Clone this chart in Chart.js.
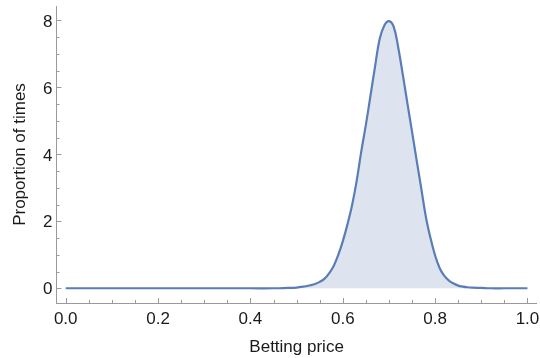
<!DOCTYPE html>
<html>
<head>
<meta charset="utf-8">
<script src="https://cdn.jsdelivr.net/npm/chart.js@4/dist/chart.umd.min.js"></script>
<style>
html,body{margin:0;padding:0;background:#fff;}
#wrap{width:540px;height:358px;position:relative;}
</style>
</head>
<body>
<div id="wrap"><canvas id="c" width="540" height="358"></canvas></div>
<script>
// Data
const price = [0, 0.05, 0.10, 0.15, 0.20, 0.25, 0.30, 0.35, 0.40, 0.45, 0.48, 0.50, 0.51, 0.52, 0.53, 0.54, 0.55, 0.56, 0.57, 0.58, 0.59,
  0.60, 0.61, 0.62, 0.63, 0.64, 0.65, 0.66, 0.67, 0.68, 0.69, 0.70, 0.71, 0.72, 0.73, 0.74, 0.75, 0.76, 0.77, 0.78, 0.79,
  0.80, 0.81, 0.82, 0.83, 0.84, 0.85, 0.86, 0.87, 0.88, 0.90, 0.92, 0.95, 1.00];
const proportion = [0, 0, 0, 0, 0, 0, 0, 0, 0, 0, 0.01, 0.02, 0.04, 0.06, 0.09, 0.13, 0.19, 0.28, 0.44, 0.66, 0.99,
  1.40, 1.90, 2.47, 3.20, 4.08, 4.88, 5.75, 6.63, 7.45, 7.85, 7.98, 7.82, 7.20, 6.38, 5.52, 4.68, 3.82, 2.98, 2.13, 1.50,
  0.98, 0.60, 0.37, 0.23, 0.14, 0.08, 0.05, 0.03, 0.02, 0.01, 0, 0, 0];
const xTickLabels = ['0.0', '0.2', '0.4', '0.6', '0.8', '1.0'];
const yTickLabels = ['0', '2', '4', '6', '8'];
const xTitle = 'Betting price';
const yTitle = 'Proportion of times';

const points = price.map((p, i) => ({x: p, y: proportion[i]}));
const FAMILY = '"Liberation Sans", Arial, sans-serif';
const FONT = {family: FAMILY, size: 17};
const AXIS = '#9a9a9a';
const TEXT = '#1a1a1a';

const axisDecor = {
  id: 'axisDecor',
  afterDraw(chart) {
    const ctx = chart.ctx, xs = chart.scales.x, ys = chart.scales.y;
    const a = chart.chartArea;
    ctx.save();
    ctx.strokeStyle = AXIS;
    ctx.lineWidth = 1;
    ctx.beginPath();
    for (let k = 0; k <= 20; k++) {
      const v = k * 0.05;
      const px = Math.round(xs.getPixelForValue(v)) + 0.5;
      const len = (k % 4 === 0) ? 5 : 3;
      ctx.moveTo(px, a.bottom);
      ctx.lineTo(px, a.bottom - len);
    }
    for (let k = 0; k <= 16; k++) {
      const v = k * 0.5;
      const py = Math.round(ys.getPixelForValue(v)) + 0.5;
      const len = (k % 4 === 0) ? 5 : 3;
      ctx.moveTo(a.left, py);
      ctx.lineTo(a.left + len, py);
    }
    ctx.stroke();
    // tick labels
    ctx.fillStyle = TEXT;
    ctx.font = '17px ' + FAMILY;
    ctx.textBaseline = 'alphabetic';
    ctx.textAlign = 'center';
    xTickLabels.forEach(t => {
      ctx.fillText(t, xs.getPixelForValue(parseFloat(t)), a.bottom + 20.5);
    });
    ctx.textAlign = 'right';
    yTickLabels.forEach(t => {
      ctx.fillText(t, a.left - 4, ys.getPixelForValue(parseFloat(t)) + 6.2);
    });
    ctx.restore();
  }
};

new Chart(document.getElementById('c'), {
  type: 'line',
  data: {
    datasets: [{
      data: points,
      borderColor: '#5a7db6',
      backgroundColor: '#dde4ef',
      borderWidth: 2.2,
      pointRadius: 0,
      fill: 'origin',
      tension: 0.4
    }]
  },
  options: {
    responsive: false,
    animation: false,
    layout: {padding: {left: 0, right: 3.3, top: 6, bottom: 0}},
    plugins: {legend: {display: false}, tooltip: {enabled: false}},
    scales: {
      x: {
        type: 'linear',
        min: -0.02, max: 1.02,
        afterFit(s) { s.height = 55; },
        grid: {display: false, drawTicks: false},
        border: {display: true, color: AXIS, width: 1},
        ticks: {display: false},
        title: {display: true, text: xTitle, color: TEXT, font: FONT, padding: {top: 0, bottom: 0}}
      },
      y: {
        type: 'linear',
        min: -0.44, max: 8.43,
        afterFit(s) { s.width = 56.5; },
        grid: {display: false, drawTicks: false},
        border: {display: true, color: AXIS, width: 1},
        ticks: {display: false},
        title: {display: true, text: yTitle, color: TEXT, font: FONT, padding: {top: 10, bottom: 0}}
      }
    }
  },
  plugins: [axisDecor]
});
</script>
</body>
</html>
